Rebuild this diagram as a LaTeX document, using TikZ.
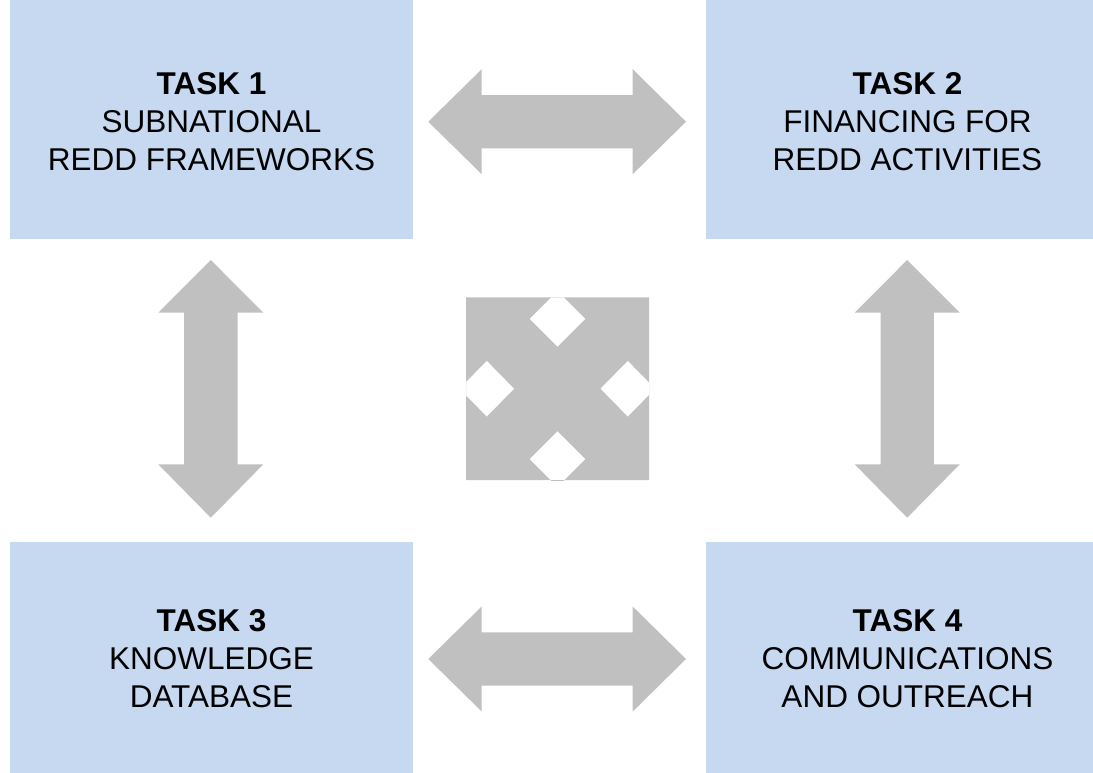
\documentclass[tikz,border=0pt]{standalone}
\usepackage{fontspec}
\setmainfont{Liberation Sans}
\definecolor{boxblue}{RGB}{198,217,241}
\definecolor{arrowgray}{RGB}{192,192,192}
\begin{document}
\begin{tikzpicture}[x=1pt,y=-1pt,
  taskbox/.style={fill=boxblue, draw=none, minimum width=403pt, minimum height=239pt, inner sep=0pt, outer sep=0pt},
  tasktext/.style={align=center, inner sep=0pt, font=\fontsize{31.5}{38}\selectfont},
  blockarrow/.style={fill=arrowgray, draw=none}]
\useasboundingbox (0,0) rectangle (1093,772);
\clip (0,0) rectangle (1093,772);
% boxes
\node[taskbox] (b1) at (211.5,119.5) {};
\node[taskbox] (b2) at (907.5,119.5) {};
\node[taskbox] (b3) at (211.5,661.5) {};
\node[taskbox] (b4) at (907.5,661.5) {};
% texts
\node[tasktext] (t1) at (211.5,121.7) {\textbf{TASK 1}\\SUBNATIONAL\\REDD FRAMEWORKS};
\node[tasktext] (t2) at (907.5,121.7) {\textbf{TASK 2}\\FINANCING FOR\\REDD ACTIVITIES};
\node[tasktext] (t3) at (211.5,658.8) {\textbf{TASK 3}\\KNOWLEDGE\\DATABASE};
\node[tasktext] (t4) at (907.5,658.8) {\textbf{TASK 4}\\COMMUNICATIONS\\AND OUTREACH};
% horizontal double arrows
\foreach \cy in {121.7,659} {
  \fill[blockarrow] (428.3,\cy) -- (481.7,\cy-52.5) -- (481.7,\cy-26.7) -- (632.7,\cy-26.7)
    -- (632.7,\cy-52.5) -- (686,\cy) -- (632.7,\cy+52.5) -- (632.7,\cy+26.7)
    -- (481.7,\cy+26.7) -- (481.7,\cy+52.5) -- cycle;
}
% vertical double arrows
\foreach \cx in {210.8,907.2} {
  \fill[blockarrow] (\cx,260) -- (\cx+52.5,312.7) -- (\cx+26.7,312.7) -- (\cx+26.7,464.3)
    -- (\cx+52.5,464.3) -- (\cx,517.7) -- (\cx-52.5,464.3) -- (\cx-26.7,464.3)
    -- (\cx-26.7,312.7) -- (\cx-52.5,312.7) -- cycle;
}
% centre quad shape
\begin{scope}
  \clip (466,297.3) rectangle (649,480);
  \fill[blockarrow, even odd rule] (466,297.3) rectangle (649,480)
    (557.5,290.8) -- (585.5,318.8) -- (557.5,346.8) -- (529.5,318.8) -- cycle
    (557.5,431.2) -- (585.5,459.2) -- (557.5,487.2) -- (529.5,459.2) -- cycle
    (486.8,360.7) -- (514.3,388.7) -- (486.8,416.7) -- (459.3,388.7) -- cycle
    (627.8,360.7) -- (655.3,388.7) -- (627.8,416.7) -- (600.3,388.7) -- cycle;
\end{scope}
\end{tikzpicture}
\end{document}
